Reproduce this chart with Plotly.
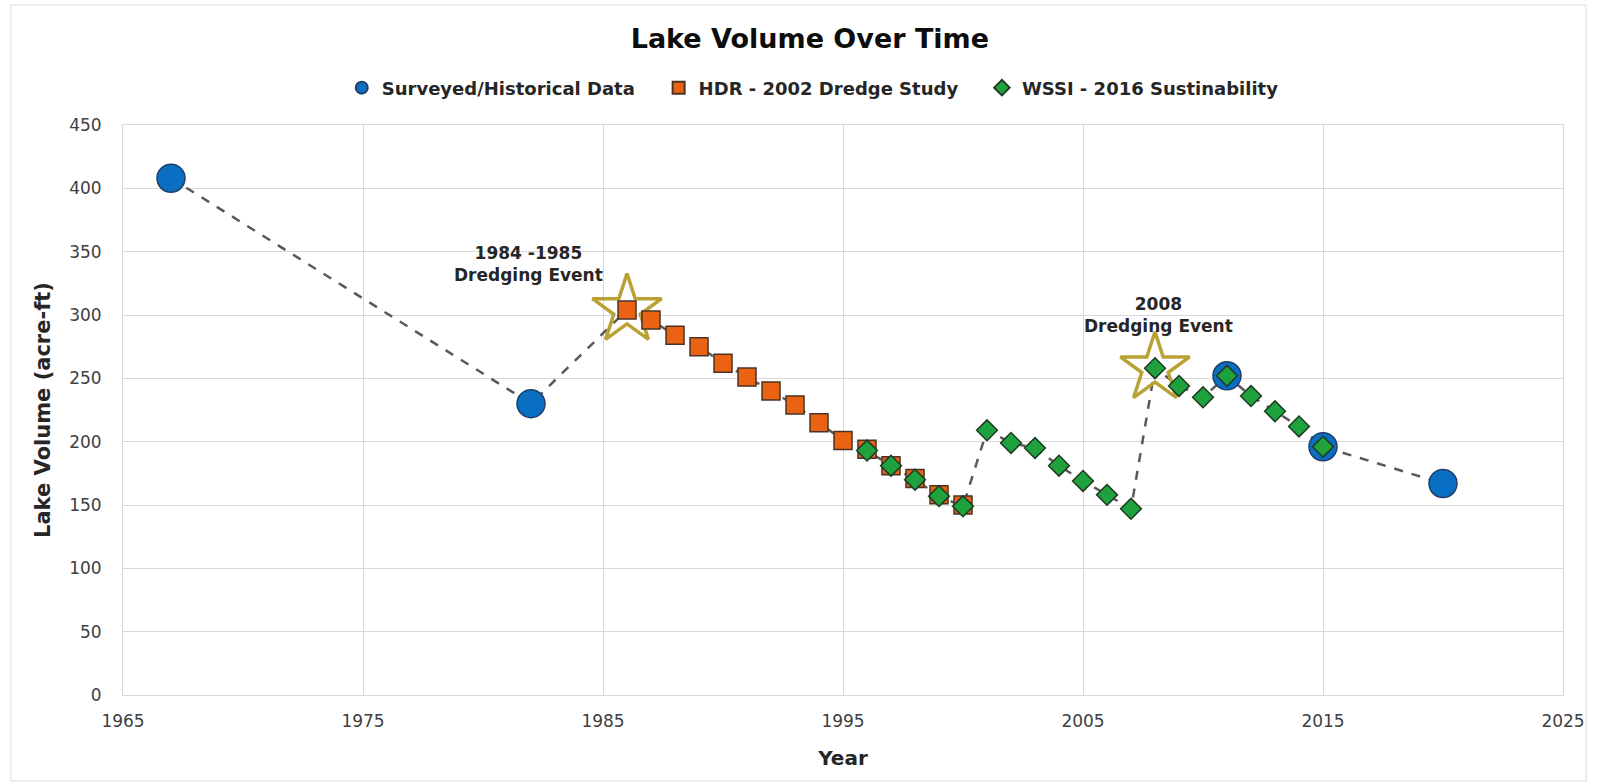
import plotly.graph_objects as go

# --- DATA ---
surveyed_years = [1967, 1982, 2011, 2015, 2020]
surveyed_vol = [408, 230, 252, 196, 167]

hdr_years = list(range(1986, 2001))
hdr_vol = [304, 296, 284, 275, 262, 251, 240, 229, 215, 201, 194, 181, 171, 158, 150]

wssi_years = list(range(1996, 2016))
wssi_vol = [193, 181, 170, 157, 149, 209, 199, 195, 181, 169,
            158, 147, 258, 244, 235, 252, 236, 224, 212, 196]

dredge_years = [1986, 2008]
dredge_labels = ["1984 -1985<br>Dredging Event", "2008<br>Dredging Event"]

x_ticks = [1965, 1975, 1985, 1995, 2005, 2015, 2025]

# combined trend path (dashed line through every point)
trend = dict(zip(surveyed_years, surveyed_vol))
trend.update(dict(zip(hdr_years, hdr_vol)))
trend.update(dict(zip(wssi_years, wssi_vol)))
trend_years = sorted(trend)
trend_vol = [trend[y] for y in trend_years]

lookup = dict(zip(hdr_years, hdr_vol))
lookup.update({y: v for y, v in zip(wssi_years, wssi_vol) if y not in lookup})
dredge_vol = [lookup[y] for y in dredge_years]

FONT = "DejaVu Sans, Arial, sans-serif"
GAP = "\u00a0" * 3  # extra room between legend entries

fig = go.Figure()

fig.add_trace(go.Scatter(
    x=trend_years, y=trend_vol, mode="lines",
    line=dict(color="#595959", width=2.5, dash="dash"),
    showlegend=False, hoverinfo="skip"))

fig.add_trace(go.Scatter(
    x=dredge_years, y=dredge_vol, mode="markers",
    marker=dict(symbol="star-open", size=52, color="#B9A233",
                line=dict(color="#B9A233", width=3.5)),
    showlegend=False))

fig.add_trace(go.Scatter(
    x=surveyed_years, y=surveyed_vol, mode="markers",
    name="Surveyed/Historical Data" + GAP,
    marker=dict(symbol="circle", size=28, color="#0A6FC2",
                line=dict(color="#1F3F6A", width=1.5))))

fig.add_trace(go.Scatter(
    x=hdr_years, y=hdr_vol, mode="markers",
    name="HDR - 2002 Dredge Study" + GAP,
    marker=dict(symbol="square", size=18, color="#EA6312",
                line=dict(color="#4A3326", width=1.5))))

fig.add_trace(go.Scatter(
    x=wssi_years, y=wssi_vol, mode="markers",
    name="WSSI - 2016 Sustinability",
    marker=dict(symbol="diamond", size=16, color="#1FA23D",
                line=dict(color="#1E3A22", width=1.5))))

# event labels
for yr, v, txt in zip(dredge_years, dredge_vol, dredge_labels):
    early = yr < 2000
    fig.add_annotation(
        x=yr + (-4.1 if early else 0.15), y=v + (36 if early else 42),
        text=txt, showarrow=False,
        font=dict(family=FONT, size=17, color="#262626", weight="bold"))

# faint outer chart frame
fig.add_shape(type="rect", xref="paper", yref="paper",
              x0=-0.078, x1=1.016, y0=-0.151, y1=1.2105,
              line=dict(color="#E8E8E8", width=1.5), layer="below")

fig.update_layout(
    width=1597, height=783,
    paper_bgcolor="white", plot_bgcolor="white",
    margin=dict(l=123, r=30, t=125, b=88),
    font=dict(family=FONT, color="#595959"),
    title=dict(text="Lake Volume Over Time", xref="paper", x=0.477, xanchor="center",
               y=0.951, yanchor="middle",
               font=dict(family=FONT, size=27, color="#0D0D0D", weight="bold")),
    legend=dict(orientation="h", x=0.479, xanchor="center", y=1.065, yanchor="middle",
                font=dict(family=FONT, size=18, color="#262626", weight="bold"),
                itemsizing="constant", traceorder="normal"),
    showlegend=True,
)

fig.update_xaxes(
    range=[1965, 2025], tickvals=x_ticks, showgrid=True, gridcolor="#D9D9D9",
    showline=True, linecolor="#D9D9D9", mirror=True, zeroline=False,
    ticks="", tickfont=dict(size=17, color="#404040"), ticklabelstandoff=11,
    title=dict(text="Year", font=dict(size=20, color="#262626", weight="bold"), standoff=20))

fig.update_yaxes(
    range=[0, 450], dtick=50, showgrid=True, gridcolor="#D9D9D9",
    showline=True, linecolor="#D9D9D9", mirror=True, zeroline=False,
    ticks="", tickfont=dict(size=17, color="#404040"), ticklabelstandoff=17,
    title=dict(text="Lake Volume (acre-ft)", font=dict(size=21, color="#262626", weight="bold"),
               standoff=12))

fig.write_html("out.html", config={"displayModeBar": False},
               post_script="document.body.style.margin='0';")
